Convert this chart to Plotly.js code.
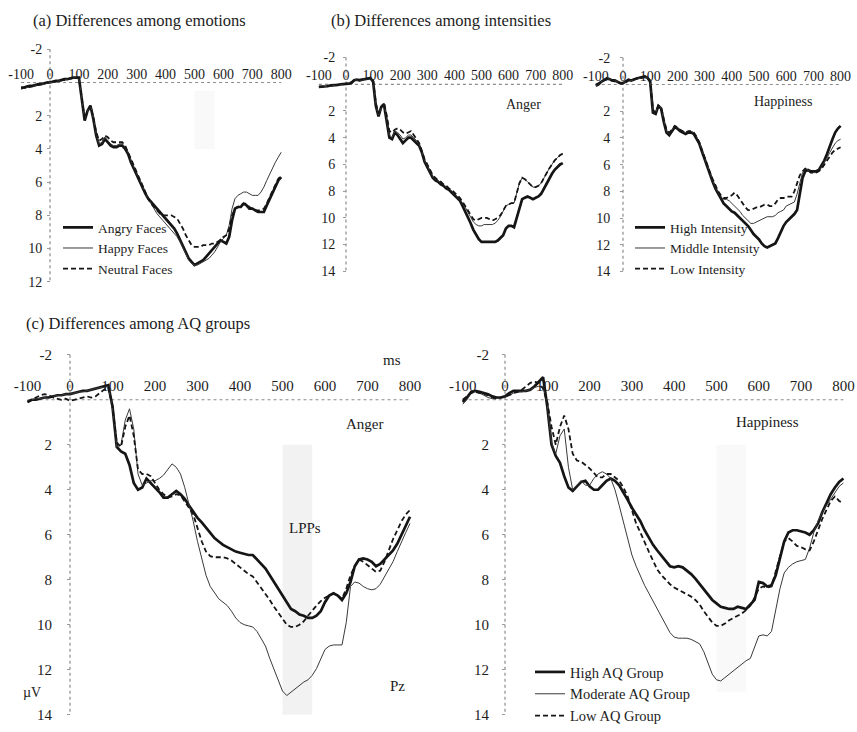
<!DOCTYPE html>
<html>
<head>
<meta charset="utf-8">
<script src="https://cdn.plot.ly/plotly-3.0.1.min.js"></script>
<style>html,body{margin:0;padding:0;background:#fff;}#chart{width:857px;height:732px;}</style>
</head>
<body>
<div id="chart"></div>
<script>
// ---------- DATA ----------
const timeMs = [];
for (let t = -100; t <= 800; t += 10) timeMs.push(t);
const xTickLabels = [-100, 0, 100, 200, 300, 400, 500, 600, 700, 800];
const yTicksA = [-2, 2, 4, 6, 8, 10, 12];
const yTicksB = [-2, 2, 4, 6, 8, 10, 12, 14];
const lppWindowMs = [500, 570];

// (a) emotions
const angryFaces = [0.3,0.3,0.25,0.2,0.2,0.15,0.1,0.1,0.05,0.0,
 0.0,-0.05,-0.1,-0.1,-0.15,-0.2,-0.2,-0.25,-0.3,-0.3,
 -0.3,1.0,2.3,1.7,1.4,2.2,3.2,3.8,3.7,3.4,
 3.6,3.8,3.9,3.9,3.8,3.8,4.0,4.3,4.8,5.2,
 5.5,5.9,6.3,6.7,7.0,7.2,7.4,7.6,7.8,8.0,
 8.2,8.4,8.6,8.8,9.1,9.5,9.9,10.3,10.6,10.8,
 11.0,10.9,10.8,10.7,10.5,10.3,10.1,9.9,9.7,9.5,
 9.6,9.7,9.3,8.3,7.6,7.5,7.5,7.3,7.4,7.6,
 7.6,7.7,7.8,7.8,7.8,7.4,7.0,6.6,6.2,5.9,5.7];
const happyFaces = [0.4,0.35,0.3,0.3,0.25,0.2,0.15,0.1,0.1,0.05,
 0.0,0.0,-0.05,-0.1,-0.1,-0.15,-0.2,-0.2,-0.25,-0.3,
 -0.2,1.1,2.2,1.7,1.4,2.1,3.1,3.7,3.6,3.3,
 3.5,3.7,3.8,3.8,3.7,3.7,3.9,4.2,4.7,5.1,
 5.5,5.9,6.3,6.7,7.0,7.3,7.6,7.9,8.1,8.3,
 8.5,8.7,8.9,9.1,9.3,9.6,10.0,10.4,10.7,10.9,
 11.0,11.0,10.9,10.8,10.7,10.6,10.4,10.2,9.9,9.6,
 9.4,9.2,8.6,7.6,7.0,6.8,6.7,6.6,6.6,6.7,
 6.8,6.8,6.8,6.6,6.3,5.9,5.5,5.1,4.8,4.5,4.2];
const neutralFaces = [0.35,0.3,0.3,0.25,0.2,0.15,0.15,0.1,0.05,0.0,
 0.0,-0.05,-0.05,-0.1,-0.15,-0.15,-0.2,-0.25,-0.25,-0.3,
 -0.3,1.0,2.2,1.7,1.4,2.1,3.0,3.5,3.4,3.2,
 3.3,3.5,3.6,3.6,3.6,3.6,3.8,4.2,4.7,5.1,
 5.5,5.9,6.3,6.7,7.0,7.3,7.5,7.7,7.9,8.0,
 8.0,8.0,8.0,8.1,8.2,8.5,8.8,9.2,9.5,9.8,
 9.9,9.9,9.9,9.8,9.8,9.8,9.7,9.7,9.6,9.5,
 9.3,9.2,8.8,8.0,7.6,7.5,7.4,7.3,7.3,7.5,
 7.6,7.7,7.7,7.7,7.6,7.3,6.9,6.5,6.1,5.8,5.6];

// (b) intensities - anger
const angerHigh = [0.2,0.2,0.15,0.15,0.1,0.1,0.05,0.05,0.0,0.0,
 0.0,-0.05,-0.1,-0.3,-0.35,-0.3,-0.35,-0.4,-0.45,-0.45,
 -0.2,1.6,2.4,1.7,1.5,2.6,4.0,4.1,3.6,3.8,
 4.1,4.4,4.2,4.0,4.0,4.2,4.4,4.6,5.1,5.8,
 6.2,6.6,7.0,7.2,7.3,7.5,7.6,7.8,7.9,8.1,
 8.3,8.5,8.7,9.1,9.5,9.9,10.4,10.9,11.3,11.6,
 11.8,11.8,11.8,11.8,11.8,11.8,11.7,11.5,11.3,10.8,
 10.6,10.6,10.7,10.0,9.3,8.6,8.5,8.4,8.5,8.6,
 8.5,8.4,8.2,7.8,7.4,7.0,6.7,6.4,6.2,6.0,5.9];
const angerMiddle = [0.25,0.2,0.2,0.15,0.15,0.1,0.1,0.05,0.05,0.0,
 0.0,-0.1,-0.2,-0.35,-0.3,-0.25,-0.3,-0.4,-0.4,-0.45,
 -0.3,1.5,2.3,1.8,1.4,2.5,3.8,4.0,3.5,3.6,
 3.8,4.1,4.0,3.8,3.8,4.0,4.2,4.5,5.0,5.7,
 6.1,6.5,6.9,7.1,7.2,7.4,7.5,7.7,7.8,8.0,
 8.2,8.4,8.6,8.9,9.2,9.6,10.0,10.3,10.5,10.6,
 10.6,10.5,10.5,10.5,10.5,10.4,10.2,9.9,9.5,9.1,
 9.0,8.9,8.9,8.2,7.4,7.0,7.1,7.3,7.5,7.7,
 7.7,7.6,7.4,7.0,6.6,6.3,6.0,5.7,5.5,5.3,5.2];
const angerLow = [0.2,0.2,0.2,0.15,0.1,0.1,0.1,0.05,0.0,0.0,
 -0.05,-0.1,-0.15,-0.3,-0.35,-0.35,-0.35,-0.4,-0.45,-0.5,
 -0.3,1.4,2.2,1.7,1.4,2.3,3.5,3.6,3.4,3.3,
 3.4,3.6,3.7,3.6,3.5,3.8,4.1,4.4,5.0,5.6,
 6.0,6.4,6.8,7.0,7.2,7.3,7.5,7.6,7.8,7.9,
 8.1,8.3,8.5,8.8,9.1,9.4,9.8,10.1,10.2,10.1,
 10.0,10.0,10.0,10.1,10.2,10.1,10.0,9.8,9.5,9.1,
 9.0,8.9,8.9,8.2,7.4,7.0,7.1,7.3,7.5,7.7,
 7.7,7.6,7.4,7.0,6.6,6.3,6.0,5.7,5.5,5.3,5.2];

// (b) intensities - happiness
const happyHigh = [0.1,0.0,-0.2,-0.35,-0.45,-0.4,-0.3,-0.3,-0.2,-0.1,
 -0.1,-0.2,-0.35,-0.3,-0.4,-0.45,-0.5,-0.55,-0.6,-0.5,
 -0.2,2.1,2.2,1.6,1.8,2.8,3.6,3.8,3.5,3.2,
 3.3,3.5,3.6,3.7,3.6,3.6,3.7,4.0,4.4,5.0,
 5.6,6.2,6.8,7.3,7.8,8.2,8.6,8.9,9.1,9.3,
 9.5,9.6,9.8,10.0,10.2,10.4,10.6,10.9,11.2,11.4,
 11.6,11.9,12.1,12.2,12.1,12.0,11.9,11.5,11.0,10.6,
 10.3,10.1,9.9,9.7,9.4,8.2,7.0,6.5,6.4,6.5,
 6.5,6.5,6.4,6.1,5.7,5.2,4.6,4.1,3.6,3.3,3.1];
const happyMiddle = [0.1,0.0,-0.2,-0.35,-0.45,-0.4,-0.3,-0.3,-0.2,-0.1,
 -0.1,-0.2,-0.3,-0.3,-0.35,-0.45,-0.5,-0.5,-0.55,-0.5,
 -0.2,2.0,2.1,1.6,1.7,2.7,3.5,3.7,3.4,3.1,
 3.2,3.4,3.5,3.6,3.5,3.5,3.6,3.9,4.3,4.9,
 5.5,6.1,6.7,7.2,7.7,8.1,8.4,8.6,8.6,8.7,
 8.9,9.1,9.3,9.5,9.8,10.0,10.2,10.4,10.4,10.3,
 10.2,10.1,10.0,9.9,9.9,9.9,9.8,9.6,9.5,9.4,
 9.1,9.0,8.9,8.8,8.2,7.3,6.6,6.3,6.4,6.6,
 6.6,6.6,6.5,6.2,5.9,5.5,5.1,4.7,4.4,4.2,4.1];
const happyLow = [0.0,-0.1,-0.25,-0.35,-0.4,-0.35,-0.3,-0.25,-0.2,-0.1,
 -0.05,-0.15,-0.3,-0.3,-0.4,-0.45,-0.45,-0.5,-0.55,-0.5,
 -0.3,1.9,2.1,1.6,1.7,2.6,3.4,3.6,3.4,3.1,
 3.2,3.4,3.5,3.6,3.5,3.5,3.6,3.9,4.3,4.9,
 5.5,6.1,6.6,7.1,7.6,8.0,8.3,8.5,8.5,8.4,
 8.3,8.1,8.3,8.6,8.9,9.2,9.4,9.4,9.3,9.2,
 9.2,9.1,9.0,9.0,9.1,9.1,8.9,8.6,8.5,8.5,
 8.4,8.4,8.4,8.0,7.4,6.8,6.5,6.3,6.4,6.6,
 6.6,6.6,6.5,6.3,6.0,5.7,5.4,5.1,4.9,4.8,4.7];

// (c) AQ groups - anger
const aqAngerHigh = [0.1,0.0,0.0,-0.05,-0.1,-0.1,-0.15,-0.2,-0.2,-0.25,
 -0.25,-0.3,-0.35,-0.4,-0.4,-0.45,-0.5,-0.55,-0.6,-0.65,
 0.3,2.1,2.3,2.4,2.9,3.7,4.0,3.9,3.5,3.7,
 3.9,4.1,4.35,4.35,4.2,4.05,4.2,4.4,4.7,5.0,
 5.25,5.45,5.7,5.95,6.15,6.3,6.45,6.55,6.65,6.75,
 6.8,6.85,6.9,6.9,7.1,7.3,7.5,7.8,8.1,8.45,
 8.75,9.05,9.3,9.4,9.55,9.6,9.7,9.7,9.6,9.4,
 9.0,8.7,8.6,8.7,8.9,8.6,8.1,7.4,7.1,7.05,
 7.1,7.2,7.4,7.3,7.1,6.9,6.7,6.4,6.0,5.6,5.2];
const aqAngerModerate = [0.05,0.0,-0.05,-0.05,-0.1,-0.15,-0.15,-0.2,-0.2,-0.25,
 -0.25,-0.3,-0.35,-0.35,-0.4,-0.45,-0.5,-0.55,-0.55,-0.6,
 0.4,2.1,2.0,0.9,0.4,1.3,3.3,3.8,3.7,3.6,
 3.6,3.5,3.35,3.1,2.85,3.0,3.3,3.9,4.6,5.4,
 6.3,7.1,7.8,8.3,8.6,8.85,9.0,9.15,9.4,9.7,
 9.9,10.0,10.05,10.1,10.3,10.6,10.95,11.5,12.0,12.5,
 12.95,13.15,13.0,12.85,12.7,12.55,12.45,12.25,11.95,11.5,
 11.1,10.95,10.9,10.9,10.9,9.9,8.3,8.1,8.15,8.3,
 8.4,8.45,8.4,8.2,7.85,7.55,7.2,6.75,6.3,5.9,5.5];
const aqAngerLow = [0.1,0.0,-0.1,-0.2,-0.25,-0.2,-0.1,-0.05,0.0,-0.05,
 0.05,0.0,-0.05,-0.1,-0.15,-0.1,-0.15,-0.3,-0.45,-0.55,
 0.3,1.9,2.1,1.2,0.7,1.6,3.1,3.3,3.3,3.4,
 3.7,4.0,4.2,4.35,4.3,4.2,4.25,4.5,4.8,5.1,
 5.7,6.3,6.75,6.95,7.0,7.0,7.0,7.05,7.15,7.3,
 7.45,7.6,7.75,7.85,8.1,8.35,8.6,8.9,9.2,9.45,
 9.75,10.0,10.1,10.1,10.0,9.85,9.6,9.35,9.15,8.95,
 8.8,8.7,8.6,8.7,8.85,8.4,7.8,7.4,7.1,7.2,
 7.35,7.5,7.65,7.6,7.2,6.7,6.2,5.8,5.4,5.1,4.9];

// (c) AQ groups - happiness
const aqHappyHigh = [0.1,-0.1,-0.35,-0.4,-0.35,-0.3,-0.25,-0.15,-0.1,-0.1,
 -0.15,-0.3,-0.4,-0.4,-0.4,-0.4,-0.45,-0.6,-0.8,-1.0,
 0.3,2.0,2.5,2.8,3.4,3.9,4.05,3.85,3.65,3.6,
 3.85,4.0,4.0,3.8,3.6,3.5,3.6,3.8,4.1,4.45,
 4.8,5.1,5.4,5.8,6.15,6.45,6.7,6.95,7.2,7.4,
 7.45,7.4,7.45,7.6,7.75,7.95,8.2,8.45,8.7,8.9,
 9.05,9.2,9.25,9.3,9.3,9.2,9.25,9.3,9.1,8.9,
 8.1,8.15,8.3,8.25,7.8,7.1,6.3,5.9,5.8,5.8,
 5.85,5.9,6.0,5.8,5.5,5.0,4.6,4.2,3.9,3.65,3.5];
const aqHappyModerate = [0.2,0.0,-0.3,-0.35,-0.3,-0.2,-0.1,-0.05,-0.05,-0.1,
 -0.1,-0.2,-0.3,-0.35,-0.35,-0.4,-0.45,-0.55,-0.6,-0.55,
 0.2,1.9,2.4,1.6,1.3,3.0,4.0,3.8,3.6,3.8,
 3.8,3.5,3.3,3.2,3.3,3.5,4.0,4.7,5.4,6.2,
 6.9,7.4,7.85,8.25,8.6,8.95,9.3,9.65,10.0,10.35,
 10.55,10.6,10.6,10.6,10.65,10.75,10.85,11.2,11.75,12.2,
 12.45,12.5,12.35,12.2,12.05,11.9,11.75,11.6,11.5,11.0,
 10.5,10.45,10.5,10.3,9.4,8.4,7.7,7.45,7.3,7.2,
 7.15,7.1,6.6,5.9,5.4,5.0,4.7,4.4,4.1,3.85,3.7];
const aqHappyLow = [0.0,-0.15,-0.3,-0.35,-0.3,-0.25,-0.2,-0.1,-0.05,-0.1,
 -0.15,-0.2,-0.3,-0.35,-0.45,-0.6,-0.75,-0.8,-0.75,-0.5,
 0.1,1.2,2.0,1.2,0.7,1.3,2.4,2.7,2.75,2.9,
 3.05,3.25,3.45,3.45,3.3,3.3,3.45,3.6,3.9,4.3,
 4.9,5.5,5.9,6.35,6.75,7.15,7.55,7.8,8.0,8.2,
 8.35,8.45,8.55,8.65,8.75,8.9,9.1,9.4,9.65,9.9,
 10.05,10.05,9.95,9.8,9.7,9.6,9.5,9.35,9.15,8.8,
 8.4,8.3,8.35,8.3,7.6,6.9,6.3,6.15,6.3,6.5,
 6.55,6.65,6.7,6.3,5.8,5.3,4.9,4.5,4.3,4.5,4.6];

const legendA = ['Angry Faces', 'Happy Faces', 'Neutral Faces'];
const legendB = ['High Intensity', 'Middle Intensity', 'Low Intensity'];
const legendC = ['High AQ Group', 'Moderate AQ Group', 'Low AQ Group'];

// ---------- LAYOUT HELPERS ----------
const W = 857, H = 732;
const px = x => x / W;
const py = y => 1 - y / H;
const FONT = '"Liberation Serif", "Times New Roman", serif';
const INK = '#1c1c1c';

const styleThick = {color: '#151515', width: 2.7};
const styleThin = {color: '#3a3a3a', width: 1};
const styleDash = {color: '#151515', width: 1.8, dash: '5px,3px'};

const panels = [
  {x0: 50, xs: 0.289, y0: 84, ys: 16.9, ymax: 12.5, yticks: yTicksA, ybot: 12, tf: 14, ystand: 2, xstand: 1,
   series: [angryFaces, happyFaces, neutralFaces], names: legendA, legend: 'legend', show: true},
  {x0: 346, xs: 0.271, y0: 85.8, ys: 13.6, ymax: 14.5, yticks: yTicksB, ybot: 14, tf: 14, ystand: 5, xstand: 1,
   series: [angerHigh, angerMiddle, angerLow], names: legendB, legend: 'legend', show: false},
  {x0: 623, xs: 0.272, y0: 86, ys: 13.6, ymax: 14.5, yticks: yTicksB, ybot: 14, tf: 14, ystand: 7, xstand: 1,
   series: [happyHigh, happyMiddle, happyLow], names: legendB, legend: 'legend2', show: true},
  {x0: 70, xs: 0.425, y0: 407, ys: 22.9, ymax: 14.1, yticks: yTicksB, ybot: 14, tf: 15, ystand: 12, xstand: 6,
   series: [aqAngerHigh, aqAngerModerate, aqAngerLow], names: legendC, legend: 'legend', show: false},
  {x0: 505, xs: 0.423, y0: 407, ys: 22.9, ymax: 14.1, yticks: yTicksB, ybot: 14, tf: 15, ystand: 10, xstand: 6,
   series: [aqHappyHigh, aqHappyModerate, aqHappyLow], names: legendC, legend: 'legend3', show: true}
];

const xRange = [-110, 810];
const yMin = -2.5;
const traces = [];
const layout = {
  width: W, height: H,
  margin: {l: 0, r: 0, t: 0, b: 0},
  paper_bgcolor: '#fff', plot_bgcolor: 'rgba(0,0,0,0)',
  font: {family: FONT, color: INK, size: 13},
  shapes: [], annotations: []
};

panels.forEach((p, i) => {
  const n = i === 0 ? '' : String(i + 1);
  const xa = 'x' + n, ya = 'y' + n;
  const styles = [styleThick, styleThin, styleDash];
  p.series.forEach((s, k) => {
    traces.push({
      type: 'scatter', mode: 'lines', x: timeMs, y: s,
      xaxis: xa, yaxis: ya, name: p.names[k],
      line: Object.assign({}, styles[k]),
      showlegend: p.show, legend: p.legend, hoverinfo: 'skip'
    });
  });
  layout['xaxis' + n] = {
    range: xRange,
    domain: [px(p.x0 + p.xs * xRange[0]), px(p.x0 + p.xs * xRange[1])],
    anchor: 'free', position: py(p.y0), side: 'top',
    tickvals: xTickLabels, ticktext: xTickLabels.map(String),
    ticks: '', showgrid: false, zeroline: false, showline: false,
    ticklabelstandoff: p.xstand, ticklabeloverflow: 'allow',
    tickfont: {family: FONT, size: p.tf, color: INK}, automargin: false, fixedrange: true
  };
  layout['yaxis' + n] = {
    range: [p.ymax, yMin],
    domain: [py(p.y0 + p.ys * p.ymax), py(p.y0 + p.ys * yMin)],
    anchor: 'free', position: px(p.x0),
    tickvals: p.yticks, ticktext: p.yticks.map(String),
    ticks: 'outside', ticklen: 3, tickcolor: '#9a9a9a', tickwidth: 1,
    ticklabelstandoff: p.ystand, ticklabeloverflow: 'allow',
    showgrid: false, zeroline: false, showline: false,
    tickfont: {family: FONT, size: p.tf, color: INK}, automargin: false, fixedrange: true
  };
  // dotted axis lines through the origin
  layout.shapes.push({type: 'line', xref: xa, yref: ya, x0: 0, x1: 0, y0: -2, y1: p.ybot,
    line: {color: '#8c8c8c', width: 1.2, dash: 'dot'}, layer: 'below'});
  layout.shapes.push({type: 'line', xref: xa, yref: ya, x0: xTickLabels[0], x1: xTickLabels[xTickLabels.length - 1], y0: 0, y1: 0,
    line: {color: '#8c8c8c', width: 1.2, dash: 'dot'}, layer: 'below'});
});

// faint LPP stipple windows
[['x', 'y', 0.5, 4, 0.025], ['x4', 'y4', 2, 14, 0.05], ['x5', 'y5', 2, 13, 0.025]].forEach(([xa, ya, a, b, op]) => {
  layout.shapes.push({type: 'rect', xref: xa, yref: ya, x0: lppWindowMs[0], x1: lppWindowMs[1], y0: a, y1: b,
    fillcolor: 'rgba(0,0,0,' + op + ')', line: {width: 0}, layer: 'below'});
});

const leg = (x, y, size) => ({
  x: px(x), y: py(y), xanchor: 'left', yanchor: 'top',
  bgcolor: 'rgba(0,0,0,0)', borderwidth: 0, itemwidth: 30, tracegroupgap: 0,
  font: {family: FONT, size: size, color: INK}, itemclick: false, itemdoubleclick: false
});
layout.legend = leg(58, 216, 13.5);
layout.legend2 = leg(630, 216, 13.5);
layout.legend3 = leg(530, 668, 14.5);

const ann = (text, x, y, size, anchor) => ({
  text: text, xref: 'paper', yref: 'paper', x: px(x), y: py(y),
  xanchor: anchor || 'center', yanchor: 'middle', showarrow: false,
  font: {family: FONT, size: size, color: INK}
});
layout.annotations.push(
  ann('(a) Differences among emotions', 31, 21, 16.5, 'left'),
  ann('(b) Differences among intensities', 329, 21, 16.5, 'left'),
  ann('(c) Differences among AQ groups', 24, 329, 16.5, 'left'),
  ann('Anger', 523, 106, 14),
  ann('Happiness', 783, 103, 14),
  ann('ms', 392, 367, 15),
  ann('Anger', 365, 432, 15),
  ann('LPPs', 305, 538, 15),
  ann('Pz', 397, 698, 15),
  ann('µV', 32, 705, 14),
  ann('Happiness', 767, 430, 15)
);

Plotly.newPlot('chart', traces, layout, {displayModeBar: false, staticPlot: true});
</script>
</body>
</html>
